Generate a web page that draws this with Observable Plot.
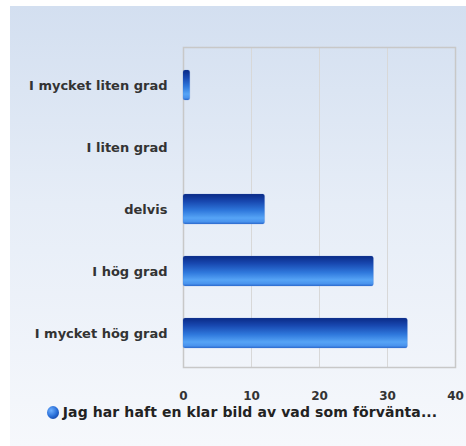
<!DOCTYPE html>
<html>
<head>
<meta charset="utf-8">
<script src="https://cdn.jsdelivr.net/npm/d3@7"></script>
<script src="https://cdn.jsdelivr.net/npm/@observablehq/plot@0.6"></script>
<style>
  html, body { margin: 0; padding: 0; background: #ffffff; width: 466px; height: 446px; overflow: hidden; }
  #panel {
    position: absolute; left: 10px; top: 6px; width: 456px; height: 440px;
    background: linear-gradient(to bottom, #d3dff0 0%, #e6edf7 45%, #f6f8fc 100%);
  }
  #legend {
    position: absolute; left: 0; top: 398px; width: 456px; text-align: center; line-height: 18px;
    font: bold 14px "DejaVu Sans", Verdana, sans-serif; color: #222;
    white-space: nowrap; letter-spacing: 0.1px; padding-left: 8px; box-sizing: border-box;
  }
  #legend .dot {
    display: inline-block; width: 12px; height: 13px; border-radius: 50%;
    background: radial-gradient(circle at 35% 35%, #6fb0ff 0%, #2a6fd8 50%, #0b2d8c 100%);
    vertical-align: -2px; margin-right: 4px;
  }
</style>
</head>
<body>
<div id="panel">
  <div id="chart"></div>
  <div id="legend"><span class="dot"></span>Jag har haft en klar bild av vad som förvänta...</div>
</div>
<script>
const categories = ["I mycket liten grad", "I liten grad", "delvis", "I hög grad", "I mycket hög grad"];
const values = [1, 0, 12, 28, 33];
const xTicks = [0, 10, 20, 30, 40];

const data = categories.map((c, i) => ({category: c, value: values[i]}));

const gradientDefs = () => {
  const ns = "http://www.w3.org/2000/svg";
  const defs = document.createElementNS(ns, "defs");
  defs.innerHTML = `
    <linearGradient id="barGrad" x1="0" y1="0" x2="0" y2="1">
      <stop offset="0%" stop-color="#0a2a86"/>
      <stop offset="25%" stop-color="#1848b0"/>
      <stop offset="55%" stop-color="#2f78dc"/>
      <stop offset="80%" stop-color="#56a4f6"/>
      <stop offset="92%" stop-color="#4a94ee"/>
      <stop offset="100%" stop-color="#2c6bd0"/>
    </linearGradient>`;
  return defs;
};

const plot = Plot.plot({
  width: 456,
  height: 400,
  marginLeft: 173,
  marginRight: 11,
  marginTop: 41,
  marginBottom: 39,
  style: {background: "transparent", fontFamily: "'DejaVu Sans', Verdana, sans-serif", fontSize: "12px", color: "#333", fontWeight: "bold"},
  x: {domain: [0, 40], ticks: xTicks, label: null, tickSize: 0, tickPadding: 24},
  y: {domain: categories, label: null, tickSize: 0, tickPadding: 16, paddingInner: 0.52, paddingOuter: 0.30, align: 0.55},
  marks: [
    gradientDefs,
    Plot.gridX(xTicks, {stroke: "#d8d8d8", strokeOpacity: 1, strokeWidth: 1}),
    Plot.frame({stroke: "#c8c8c8", strokeWidth: 1.5}),
    Plot.barX(data, {x: "value", y: "category", fill: "url(#barGrad)", rx: 2, stroke: "#3a6fc8", strokeOpacity: 0.35, strokeWidth: 0.5}),
    Plot.axisX({ticks: xTicks, tickSize: 0, tickPadding: 24, label: null, fill: "#333", fontSize: 12}),
    Plot.axisY({tickSize: 0, tickPadding: 16, label: null, fill: "#333", fontSize: 13})
  ]
});
document.getElementById("chart").appendChild(plot);
</script>
</body>
</html>
